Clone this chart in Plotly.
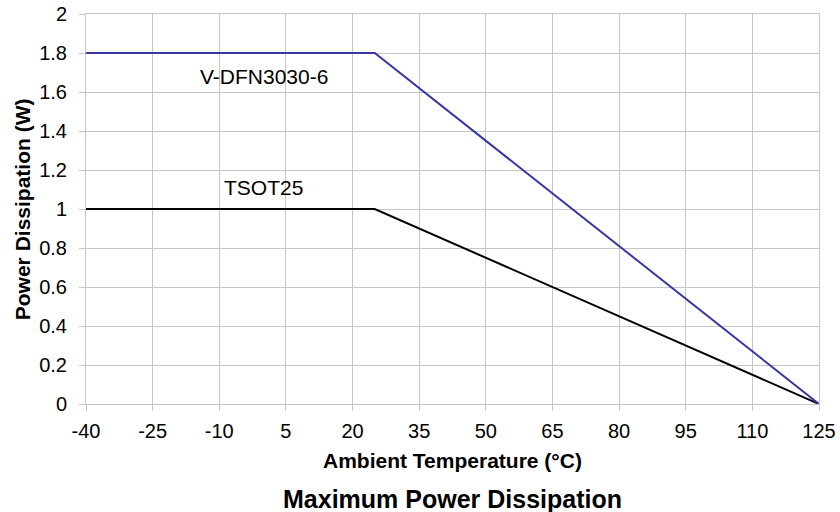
import plotly.graph_objects as go

# Derating curves (ambient temperature in °C, power in W)
temp = [-40, 25, 125]
dfn_power = [1.8, 1.8, 0]
tsot_power = [1.0, 1.0, 0]

x_ticks = [-40, -25, -10, 5, 20, 35, 50, 65, 80, 95, 110, 125]
x_labels = ["-40", "-25", "-10", "5", "20", "35", "50", "65", "80", "95", "110", "125"]
y_ticks = [0, 0.2, 0.4, 0.6, 0.8, 1, 1.2, 1.4, 1.6, 1.8, 2]
y_labels = ["0", "0.2", "0.4", "0.6", "0.8", "1", "1.2", "1.4", "1.6", "1.8", "2"]

font = "Liberation Sans, Arial, sans-serif"
grid = "#c6c6c6"

fig = go.Figure()
fig.add_trace(go.Scatter(x=temp, y=tsot_power, mode="lines", name="TSOT25",
                         line=dict(color="#000000", width=2)))
fig.add_trace(go.Scatter(x=temp, y=dfn_power, mode="lines", name="V-DFN3030-6",
                         line=dict(color="#3838a4", width=2)))

# curve labels
fig.add_annotation(x=0, y=1.68, text="V-DFN3030-6", showarrow=False,
                   font=dict(size=21, color="#000000"))
fig.add_annotation(x=0, y=1.11, text="TSOT25", showarrow=False,
                   font=dict(size=21, color="#000000"))

# axis titles and caption
fig.add_annotation(x=0.5, y=-0.1436, xref="paper", yref="paper", yanchor="middle",
                   text="<b>Ambient Temperature (°C)</b>", showarrow=False,
                   font=dict(size=21, color="#000000"))
fig.add_annotation(x=-0.087, y=0.5, xref="paper", yref="paper", xanchor="center", yanchor="middle",
                   text="<b>Power Dissipation (W)</b>", textangle=-90, showarrow=False,
                   font=dict(size=21, color="#000000"))
fig.add_annotation(x=0.5, y=-0.2436, xref="paper", yref="paper", yanchor="middle",
                   text="<b>Maximum Power Dissipation</b>", showarrow=False,
                   font=dict(size=25, color="#000000"))

axis_common = dict(showgrid=True, gridcolor=grid, gridwidth=1,
                   showline=True, linecolor=grid, linewidth=1, mirror=True,
                   ticks="outside", tickcolor=grid, ticklen=6,
                   tickfont=dict(size=20, color="#000000"), zeroline=False,
                   ticklabeloverflow="allow", automargin=False)

fig.update_xaxes(range=[-40, 125], tickvals=x_ticks, ticktext=x_labels,
                 ticklabelstandoff=3, **axis_common)
fig.update_yaxes(range=[0, 2], tickvals=y_ticks, ticktext=y_labels,
                 ticklabelstandoff=8, **axis_common)

fig.update_layout(width=840, height=512, showlegend=False,
                  margin=dict(l=86, r=21, t=14, b=108),
                  plot_bgcolor="#ffffff", paper_bgcolor="#ffffff",
                  font=dict(family=font, color="#000000"))

# drop the default 8px body margin so the figure fills the window
fig.write_html("out.html", config={"displayModeBar": False},
               post_script="document.body.style.margin='0';")
